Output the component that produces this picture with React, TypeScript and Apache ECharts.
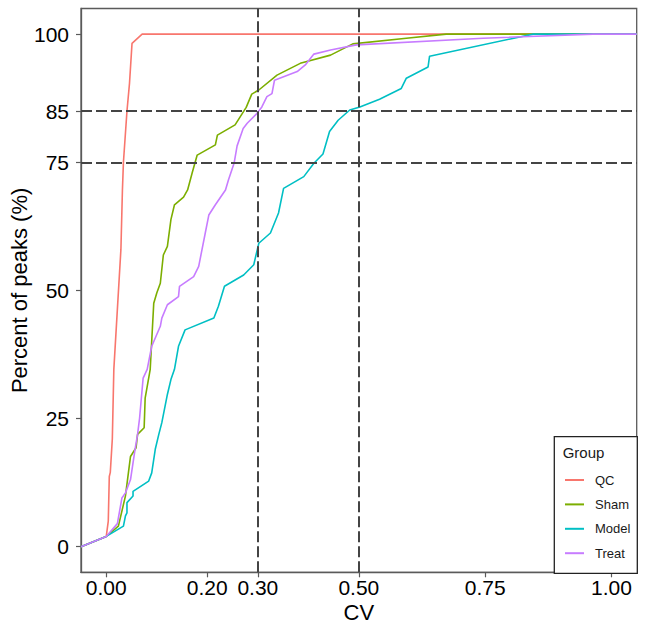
import React, { useEffect, useRef } from "react";
import * as echarts from "echarts";

const xTicks = [0, 0.2, 0.3, 0.5, 0.75, 1.0];
const yTicks = [0, 25, 50, 75, 85, 100];
const refX = [0.3, 0.5];
const refY = [75, 85];

const groups = ["QC", "Sham", "Model", "Treat"];
const colors = ["#F8766D", "#7CAE00", "#00BFC4", "#C77CFF"];

const qcX = [-0.05, 0.0, 0.004, 0.006, 0.008, 0.012, 0.015, 0.029, 0.032, 0.034, 0.041, 0.046, 0.051, 0.071, 1.05];
const qcY = [0, 2, 5, 13.7, 14.5, 21, 34.6, 58, 69.6, 75, 85, 90.4, 98.2, 100, 100];

const shamX = [-0.05, 0.0, 0.024, 0.038, 0.048, 0.059, 0.062, 0.075, 0.077, 0.087, 0.094, 0.1, 0.107, 0.113, 0.121, 0.128, 0.135, 0.153, 0.161, 0.17, 0.18, 0.216, 0.22, 0.255, 0.277, 0.288, 0.302, 0.338, 0.384, 0.444, 0.488, 0.594, 0.673, 1.05];
const shamY = [0, 2, 4.0, 9.9, 17.6, 19.3, 21.9, 23.2, 29, 34.6, 47.5, 49.5, 51.4, 56.9, 58.6, 63.8, 66.7, 68.2, 69.6, 72.9, 76.4, 78.4, 80.3, 82.3, 85.7, 88.3, 89.1, 92.0, 94.3, 95.9, 98.1, 99.2, 100, 100];

const modelX = [-0.05, 0.0, 0.034, 0.038, 0.041, 0.041, 0.053, 0.053, 0.084, 0.09, 0.097, 0.104, 0.11, 0.121, 0.128, 0.135, 0.143, 0.156, 0.213, 0.222, 0.234, 0.272, 0.292, 0.295, 0.302, 0.325, 0.341, 0.351, 0.391, 0.411, 0.429, 0.442, 0.459, 0.482, 0.502, 0.541, 0.584, 0.594, 0.637, 0.64, 0.845, 1.05];
const modelY = [0, 2, 4, 6, 6.6, 8.6, 9.9, 10.8, 12.8, 14.4, 19, 21.9, 24.2, 29.7, 32.6, 34.6, 39.1, 42.3, 44.6, 46.9, 50.8, 53, 55, 56.3, 59.2, 61.2, 65.1, 69.9, 72.2, 74.8, 76.6, 81, 83.2, 85.2, 85.8, 87.3, 89.4, 91.4, 93.6, 95.7, 100, 100];

const treatX = [-0.05, 0.0, 0.022, 0.031, 0.038, 0.048, 0.057, 0.062, 0.066, 0.073, 0.081, 0.09, 0.107, 0.11, 0.121, 0.143, 0.145, 0.173, 0.183, 0.196, 0.203, 0.216, 0.236, 0.242, 0.253, 0.259, 0.271, 0.279, 0.298, 0.308, 0.318, 0.328, 0.333, 0.378, 0.394, 0.411, 0.444, 0.495, 0.746, 0.964, 1.05];
const treatY = [0, 2, 4.5, 9.5, 10.5, 13.1, 19, 21.9, 25.1, 32.9, 34.6, 39.1, 43, 44.6, 47.2, 48.8, 50.8, 52.7, 54.7, 61.2, 64.7, 66.7, 69.6, 71.6, 74.8, 78.2, 81.6, 82.6, 84.5, 85.8, 87.8, 88.4, 91, 92.7, 94, 96.1, 96.9, 97.9, 99.2, 100, 100];

const seriesXs = [qcX, shamX, modelX, treatX];
const seriesYs = [qcY, shamY, modelY, treatY];

const FONT = '"Liberation Sans", Arial, Helvetica, sans-serif';

export default function App() {
  const ref = useRef<HTMLDivElement>(null);
  useEffect(() => {
    if (!ref.current) return;
    const chart = echarts.init(ref.current, null, { renderer: "svg" });
    const lineSeries = groups.map((g, i) => ({
      name: g,
      type: "line",
      data: seriesXs[i].map((x, j) => [x, seriesYs[i][j]]),
      showSymbol: false,
      symbol: "none",
      color: colors[i],
      lineStyle: { width: 1.6, color: colors[i] },
      itemStyle: { color: colors[i] },
      z: 2,
    }));
    chart.setOption({
      animation: false,
      backgroundColor: "#ffffff",
      textStyle: { fontFamily: FONT, fontWeight: "normal" },
      grid: {
        left: 81,
        right: 9.3,
        top: 8.5,
        bottom: 61.7,
        show: true,
        borderColor: "#5a5a5a",
        borderWidth: 1.3,
        backgroundColor: "transparent",
      },
      xAxis: {
        type: "value",
        min: -0.05,
        max: 1.05,
        name: "CV",
        nameLocation: "middle",
        nameGap: 32,
        nameMoveOverlap: false,
        nameTextStyle: { fontSize: 22, lineHeight: 16, color: "#000", fontFamily: FONT, fontWeight: "normal" },
        splitLine: { show: false },
        axisLine: { show: true, onZero: false, lineStyle: { color: "#5a5a5a", width: 1.3 } },
        axisTick: { show: true, length: 5, lineStyle: { color: "#5a5a5a", width: 1.2 }, customValues: xTicks },
        axisLabel: {
          fontSize: 21,
          lineHeight: 16,
          color: "#000",
          margin: 7,
          fontFamily: FONT,
          customValues: xTicks,
          formatter: (v: number) => v.toFixed(2),
        },
      },
      yAxis: {
        type: "value",
        min: -5,
        max: 105,
        name: "Percent of peaks (%)",
        nameLocation: "middle",
        nameGap: 51,
        nameMoveOverlap: false,
        nameTextStyle: { fontSize: 22, color: "#000", fontFamily: FONT, fontWeight: "normal" },
        splitLine: { show: false },
        axisLine: { show: true, onZero: false, lineStyle: { color: "#5a5a5a", width: 1.3 } },
        axisTick: { show: true, length: 5, lineStyle: { color: "#5a5a5a", width: 1.2 }, customValues: yTicks },
        axisLabel: {
          fontSize: 21,
          color: "#000",
          margin: 12,
          fontFamily: FONT,
          customValues: yTicks,
          formatter: (v: number) => String(v),
        },
      },
      legend: {
        data: groups,
        orient: "vertical",
        left: 565,
        top: 473,
        padding: 0,
        itemWidth: 19,
        itemHeight: 2,
        itemGap: 10.4,
        icon: "rect",
        selectedMode: false,
        z: 6,
        textStyle: { fontSize: 13, lineHeight: 14, color: "#1a1a1a", fontFamily: FONT, fontWeight: "normal", padding: [0, 0, 0, 6] },
      },
      graphic: [
        {
          type: "rect",
          z: 5,
          shape: { x: 554.3, y: 436.7, width: 83, height: 136.6 },
          style: { fill: "#ffffff", stroke: "#222222", lineWidth: 1.3 },
        },
        {
          type: "text",
          z: 6,
          x: 562.7,
          y: 452.3,
          style: { text: "Group", fontSize: 15, fontWeight: "normal", fill: "#1a1a1a", fontFamily: FONT, verticalAlign: "middle", align: "left" },
        },
      ],
      series: [
        ...lineSeries,
        {
          name: "ref",
          type: "line",
          data: [],
          z: 3,
          silent: true,
          markLine: {
            silent: true,
            symbol: ["none", "none"],
            label: { show: false },
            lineStyle: { color: "#444444", width: 2, type: [11, 4] },
            data: [
              ...refX.map((v) => ({ xAxis: v })),
              ...refY.map((v) => ({ yAxis: v })),
            ],
          },
        },
      ],
    });
    return () => chart.dispose();
  }, []);
  return <div ref={ref} style={{ position: "fixed", left: 0, top: 0, width: 646, height: 634 }} />;
}
